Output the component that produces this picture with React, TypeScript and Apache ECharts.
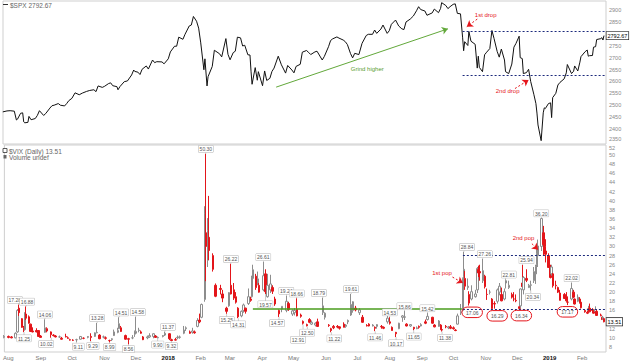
import React, { useEffect, useRef } from "react";
import * as echarts from "echarts";

const m = (ym: string, days: number[]) => days.map((d) => `${ym}-${String(d).padStart(2, "0")}`);

// sampled trading days
const dates: string[] = [
  ...m("2017-07", [28]),
  ...m("2017-08", [1, 4, 8, 10, 11, 14, 16, 17, 18, 21, 22, 24, 28, 30]),
  ...m("2017-09", [1, 5, 7, 11, 13, 15, 19, 21, 25, 27, 29]),
  ...m("2017-10", [2, 5, 9, 12, 16, 19, 23, 25, 27, 31]),
  ...m("2017-11", [2, 6, 8, 10, 14, 15, 17, 21, 24, 28, 30]),
  ...m("2017-12", [1, 4, 6, 8, 12, 14, 18, 20, 22, 27, 29]),
  ...m("2018-01", [2, 4, 8, 10, 12, 16, 18, 22, 24, 26, 29, 31]),
  ...m("2018-02", [2, 5, 6, 8, 9, 13, 15, 20, 22, 26, 28]),
  ...m("2018-03", [2, 5, 7, 9, 12, 14, 16, 19, 21, 22, 23, 26, 28, 29]),
  ...m("2018-04", [2, 4, 6, 9, 11, 13, 17, 20, 24, 26, 30]),
  ...m("2018-05", [2, 4, 8, 10, 14, 16, 18, 22, 24, 29, 31]),
  ...m("2018-06", [4, 6, 8, 12, 14, 18, 20, 22, 25, 27, 29]),
  ...m("2018-07", [3, 6, 10, 12, 16, 18, 20, 24, 26, 30]),
  ...m("2018-08", [1, 3, 7, 10, 13, 15, 17, 21, 24, 27, 29, 31]),
  ...m("2018-09", [4, 6, 11, 13, 17, 19, 20, 24, 26, 28]),
  ...m("2018-10", [1, 3, 5, 8, 10, 11, 12, 15, 16, 18, 22, 24, 25, 26, 29, 31]),
  ...m("2018-11", [2, 5, 7, 9, 12, 14, 16, 19, 20, 23, 26, 28, 30]),
  ...m("2018-12", [3, 4, 6, 7, 10, 12, 14, 17, 19, 20, 21, 24, 26, 27, 28, 31]),
  ...m("2019-01", [2, 3, 4, 7, 9, 11, 15, 17, 18, 22, 24, 25, 28, 30, 31]),
  ...m("2019-02", [4, 6, 7, 8, 11, 12, 14, 15, 19, 20, 21, 22]),
];

// $SPX close
const spx: number[] = [
  2472,
  2476, 2477, 2475, 2438, 2441, 2466, 2468, 2430, 2426, 2428, 2453, 2439, 2444, 2457,
  2477, 2457, 2465, 2488, 2498, 2500, 2507, 2500, 2497, 2507, 2519,
  2529, 2552, 2544, 2551, 2558, 2562, 2565, 2557, 2581, 2575,
  2579, 2591, 2594, 2582, 2578, 2565, 2579, 2599, 2602, 2627, 2648,
  2642, 2639, 2629, 2651, 2665, 2652, 2690, 2679, 2683, 2682, 2674,
  2695, 2724, 2748, 2748, 2786, 2777, 2798, 2833, 2837, 2873, 2853, 2824,
  2762, 2649, 2695, 2581, 2620, 2663, 2731, 2716, 2703, 2780, 2714,
  2691, 2721, 2727, 2786, 2783, 2749, 2752, 2712, 2711, 2643, 2588, 2658, 2605, 2641,
  2582, 2644, 2604, 2613, 2642, 2656, 2706, 2670, 2635, 2667, 2648,
  2636, 2663, 2672, 2723, 2730, 2722, 2713, 2724, 2727, 2690, 2705,
  2746, 2772, 2779, 2787, 2782, 2774, 2767, 2755, 2717, 2699, 2718,
  2713, 2760, 2793, 2798, 2798, 2816, 2802, 2820, 2837, 2802,
  2813, 2840, 2858, 2833, 2821, 2818, 2850, 2862, 2875, 2897, 2914, 2902,
  2896, 2878, 2888, 2904, 2889, 2907, 2931, 2919, 2906, 2914,
  2924, 2926, 2886, 2884, 2786, 2729, 2767, 2751, 2810, 2769, 2756, 2656, 2706, 2659, 2641, 2712,
  2723, 2738, 2814, 2781, 2726, 2702, 2736, 2690, 2641, 2633, 2673, 2744, 2760,
  2790, 2700, 2696, 2633, 2637, 2651, 2600, 2546, 2507, 2467, 2417, 2351, 2468, 2489, 2486, 2507,
  2510, 2448, 2532, 2550, 2585, 2596, 2611, 2636, 2671, 2633, 2643, 2665, 2644, 2681, 2704,
  2725, 2732, 2706, 2708, 2709, 2744, 2746, 2776, 2780, 2784, 2774, 2792.67,
];

// $VIX [open, high, low, close]
const vix: number[][] = [
  [10.1, 10.6, 9.9, 10.3],
  [10.3, 10.5, 9.9, 10.1], [10.2, 10.4, 9.9, 10.0], [10.0, 11.2, 9.9, 11.0], [11.3, 16.3, 11.1, 16.0], [16.5, 17.28, 14.8, 15.5], [14.2, 14.3, 12.2, 12.3], [12.3, 12.6, 11.25, 11.7], [11.8, 15.6, 11.6, 15.5], [15.2, 16.88, 13.9, 14.3], [14.6, 14.9, 13.1, 13.2], [13.0, 13.1, 11.3, 11.4], [11.5, 12.3, 11.2, 11.3], [11.6, 12.1, 11.2, 11.3], [11.6, 11.7, 10.3, 10.3],
  [10.4, 10.6, 10.1, 10.1], [11.2, 14.06, 11.1, 12.2], [12.0, 12.3, 11.2, 11.5], [11.3, 11.4, 10.02, 10.7], [10.6, 10.8, 10.3, 10.5], [10.4, 10.6, 10.1, 10.2], [10.2, 10.5, 10.0, 10.2], [9.9, 10.2, 9.6, 9.7], [10.3, 10.9, 10.1, 10.2], [10.0, 10.3, 9.8, 9.9], [9.6, 9.8, 9.4, 9.5],
  [9.5, 9.7, 9.3, 9.45], [9.6, 9.8, 9.11, 9.6], [9.7, 10.4, 9.6, 10.3], [9.9, 10.1, 9.7, 9.9], [10.1, 10.4, 9.9, 10.3], [10.3, 11.0, 9.29, 10.1], [10.3, 11.2, 10.2, 11.1], [11.1, 13.28, 11.0, 11.2], [10.6, 10.8, 9.7, 9.8], [10.2, 10.5, 9.9, 10.2],
  [10.0, 10.3, 9.6, 9.9], [9.4, 9.6, 8.99, 9.4], [9.6, 9.9, 9.3, 9.8], [10.5, 11.8, 10.4, 11.3], [11.2, 12.2, 11.0, 11.6], [12.0, 14.51, 11.9, 13.1], [12.2, 12.6, 11.3, 11.4], [10.5, 10.7, 9.6, 9.7], [9.8, 10.0, 8.56, 9.7], [10.0, 10.6, 9.7, 10.0], [10.8, 11.6, 10.2, 11.3],
  [11.0, 14.58, 10.9, 11.4], [11.6, 12.2, 11.2, 11.7], [11.3, 11.6, 10.9, 11.0], [10.2, 10.4, 9.5, 9.6], [10.0, 10.5, 9.7, 10.2], [10.2, 11.0, 10.0, 10.5], [10.3, 11.0, 9.9, 10.9], [10.4, 10.6, 10.0, 10.1], [10.0, 10.3, 9.9, 10.1], [10.3, 10.6, 10.1, 10.5], [10.6, 11.37, 10.4, 11.0],
  [10.9, 11.0, 9.5, 9.8], [9.6, 9.8, 9.32, 9.4], [9.6, 10.0, 9.4, 9.5], [10.0, 10.5, 9.7, 10.1], [10.1, 10.5, 9.8, 10.2], [11.0, 12.6, 10.8, 11.7], [12.0, 12.5, 11.5, 12.2], [11.3, 11.6, 10.9, 11.0], [11.2, 12.2, 10.9, 11.5], [11.3, 11.6, 10.9, 11.1], [12.5, 14.3, 12.3, 13.8], [13.9, 15.3, 13.2, 13.5],
  [14.5, 17.5, 14.3, 17.3], [18.4, 38.8, 17.9, 37.3], [33.0, 50.3, 22.4, 30.0], [27.0, 36.2, 25.5, 33.5], [32.0, 41.06, 27.0, 29.1], [28.0, 28.5, 24.5, 25.0], [21.5, 21.9, 18.9, 19.1], [20.8, 21.6, 19.5, 20.6], [19.6, 20.5, 17.8, 18.7], [16.5, 16.8, 15.25, 15.8], [17.0, 20.0, 16.8, 19.9],
  [21.5, 26.22, 19.5, 19.6], [20.5, 22.0, 18.3, 18.7], [19.0, 20.0, 17.5, 17.8], [16.5, 16.7, 14.31, 14.6], [14.8, 16.0, 14.5, 15.8], [16.0, 17.5, 15.5, 17.2], [16.5, 16.6, 15.3, 15.8], [17.5, 20.8, 17.2, 19.0], [18.5, 19.0, 17.9, 18.2], [19.0, 23.6, 18.8, 23.3], [23.0, 26.0, 20.5, 24.9], [23.5, 24.0, 20.5, 21.0], [22.0, 24.5, 21.5, 22.9], [21.5, 22.0, 19.9, 20.0],
  [20.5, 26.61, 20.2, 23.6], [24.0, 25.0, 19.57, 20.1], [19.0, 24.0, 18.8, 21.5], [20.5, 23.8, 19.8, 21.8], [21.0, 21.5, 19.6, 20.2], [18.5, 19.0, 17.0, 17.4], [16.0, 16.2, 14.57, 15.25], [16.3, 16.9, 15.6, 16.9], [16.0, 19.24, 15.6, 18.0], [17.5, 17.9, 15.9, 16.2], [15.2, 16.2, 14.8, 15.9],
  [15.5, 16.5, 14.9, 16.0], [16.2, 18.66, 14.7, 14.8], [15.0, 15.3, 14.4, 14.7], [13.6, 13.8, 12.91, 13.2], [12.9, 13.1, 12.5, 12.65], [14.0, 14.3, 13.2, 13.4], [13.0, 13.8, 12.8, 13.4], [12.8, 13.4, 12.5, 13.2], [13.5, 14.2, 12.4, 12.5], [15.5, 18.79, 15.0, 17.0], [14.5, 15.6, 14.0, 15.4],
  [12.8, 13.0, 12.4, 12.7], [12.0, 12.2, 11.22, 11.6], [12.5, 12.8, 11.9, 12.2], [12.5, 12.8, 12.1, 12.35], [12.4, 12.5, 11.8, 12.1], [13.0, 13.4, 12.3, 12.3], [12.5, 13.0, 12.2, 12.8], [13.5, 14.0, 13.0, 13.8], [15.0, 19.61, 14.8, 17.3], [16.0, 18.0, 15.5, 17.9], [16.5, 17.0, 15.8, 16.1],
  [15.5, 16.5, 15.0, 16.1], [14.5, 15.0, 13.3, 13.4], [12.7, 13.0, 12.5, 12.6], [13.0, 13.2, 12.5, 12.6], [12.6, 13.0, 12.5, 12.8], [12.3, 12.5, 11.46, 12.1], [12.5, 13.0, 12.0, 12.9], [12.5, 12.8, 12.0, 12.4], [12.3, 12.5, 11.9, 12.1], [13.5, 14.9, 13.1, 14.3],
  [13.5, 14.53, 12.9, 13.2], [12.3, 12.5, 11.6, 11.6], [11.2, 11.3, 10.17, 10.9], [12.0, 13.3, 11.9, 13.2], [14.5, 15.0, 13.5, 14.8], [14.5, 15.86, 13.9, 14.6], [13.0, 13.2, 12.5, 12.6], [12.6, 13.0, 12.4, 12.9], [12.3, 12.4, 11.65, 12.0], [12.0, 12.5, 11.9, 12.2], [12.5, 12.7, 12.0, 12.3], [12.6, 13.2, 12.5, 12.9],
  [13.5, 14.0, 13.0, 13.2], [14.0, 15.42, 13.8, 14.7], [14.5, 14.6, 13.1, 13.2], [12.8, 13.0, 12.3, 12.4], [12.5, 13.9, 12.4, 13.7], [12.8, 13.0, 11.7, 11.8], [11.8, 12.0, 11.38, 11.7], [12.5, 12.8, 12.1, 12.4], [12.2, 12.6, 11.9, 12.4], [12.4, 12.8, 11.9, 12.1],
  [12.2, 12.5, 11.8, 12.0], [11.7, 11.9, 11.45, 11.6], [13.0, 15.3, 12.9, 14.8], [15.5, 17.4, 15.0, 15.7], [16.0, 23.2, 15.8, 23.0], [23.5, 28.84, 22.5, 25.0], [23.0, 24.6, 20.5, 21.3], [21.0, 23.0, 20.5, 21.3], [19.5, 20.2, 17.06, 17.6], [18.5, 21.5, 18.2, 20.1], [19.0, 20.5, 18.8, 19.6], [20.5, 25.5, 19.8, 25.2], [25.0, 25.8, 23.3, 24.2], [24.5, 26.0, 22.5, 24.2], [22.5, 27.26, 22.0, 24.7], [23.5, 23.8, 20.8, 21.2],
  [19.5, 20.8, 18.3, 19.5], [20.0, 20.5, 19.5, 20.0], [18.5, 18.7, 16.29, 16.4], [17.5, 18.0, 16.4, 17.4], [18.0, 20.8, 17.5, 20.5], [20.0, 22.0, 19.3, 21.3], [19.5, 21.0, 18.0, 18.1], [18.5, 20.8, 18.2, 20.1], [22.0, 22.81, 20.8, 22.5], [21.0, 22.5, 20.7, 21.5], [19.5, 19.9, 18.6, 18.9], [18.5, 20.0, 18.0, 18.5], [18.2, 19.5, 17.8, 18.1],
  [16.8, 17.2, 16.34, 16.44], [17.0, 20.8, 16.5, 20.7], [22.0, 25.94, 21.0, 21.2], [20.5, 23.5, 19.5, 23.2], [23.0, 25.0, 22.2, 22.6], [21.0, 21.8, 20.9, 21.5], [21.5, 22.5, 20.34, 21.6], [22.5, 25.5, 22.0, 24.5], [24.0, 26.0, 21.8, 25.6], [26.0, 30.3, 24.0, 28.4], [28.0, 31.5, 25.5, 30.1], [30.0, 36.2, 29.0, 36.1], [33.0, 34.5, 28.0, 30.4], [31.5, 32.0, 28.5, 30.0], [29.0, 30.0, 26.5, 28.3], [28.0, 28.5, 25.4, 25.4],
  [25.5, 26.0, 23.0, 23.2], [24.0, 26.0, 23.6, 25.5], [24.0, 24.2, 21.0, 21.4], [21.5, 22.5, 20.6, 21.4], [21.0, 21.2, 19.8, 20.0], [19.8, 20.5, 18.2, 18.2], [19.5, 19.8, 18.5, 18.6], [19.0, 20.0, 17.9, 18.1], [17.8, 18.3, 17.17, 17.8], [18.5, 22.02, 18.2, 20.8], [20.0, 20.5, 18.7, 18.9], [18.5, 18.6, 17.3, 17.4], [18.0, 19.5, 17.8, 18.9], [18.5, 18.9, 17.5, 17.7], [17.8, 18.1, 16.4, 16.6],
  [16.0, 16.3, 15.5, 15.7], [15.6, 16.0, 15.2, 15.4], [16.0, 17.0, 15.8, 16.4], [16.5, 17.5, 15.6, 15.7], [16.2, 16.5, 15.6, 16.0], [15.8, 16.0, 15.3, 15.4], [15.8, 16.9, 15.6, 16.2], [15.8, 16.3, 14.8, 14.9], [15.0, 15.3, 14.7, 14.9], [14.5, 14.6, 13.9, 14.0], [14.2, 14.8, 13.9, 14.5], [14.2, 14.3, 13.4, 13.51],
];

// annotated VIX highs / lows (dates of candles)
const vixHighLabels = ["2017-08-11", "2017-08-18", "2017-09-05", "2017-10-25", "2017-11-15", "2017-12-01", "2017-12-29", "2018-02-06", "2018-03-02", "2018-04-02", "2018-04-24", "2018-05-04", "2018-05-29", "2018-06-25", "2018-08-01", "2018-08-15", "2018-09-06", "2018-10-11", "2018-10-29", "2018-11-20", "2018-12-06", "2018-12-24", "2019-01-22"];
const vixLowLabels = ["2017-08-16", "2017-09-11", "2017-10-05", "2017-10-19", "2017-11-06", "2017-11-24", "2017-12-22", "2018-01-04", "2018-02-26", "2018-03-09", "2018-04-04", "2018-04-17", "2018-05-10", "2018-05-14", "2018-06-06", "2018-07-18", "2018-08-07", "2018-08-24", "2018-09-20", "2018-12-14"];
const vixCircledLows = ["2018-10-16", "2018-11-07", "2018-12-03", "2019-01-18"];

const monthTicks = ["2017-08", "2017-09", "2017-10", "2017-11", "2017-12", "2018-01", "2018-02", "2018-03", "2018-04", "2018-05", "2018-06", "2018-07", "2018-08", "2018-09", "2018-10", "2018-11", "2018-12", "2019-01", "2019-02"];
// tick labels visible on the right axes (2800 and 14 sit under the last-value tags)
const spxTicks = [2350, 2400, 2450, 2500, 2550, 2600, 2650, 2700, 2750, 2850, 2900];
const vixTicks = [8, 10, 12, 16, 18, 20, 22, 24, 26, 28, 30, 32, 34, 36, 38, 40, 42, 44, 46, 48, 50, 52];
const MONTHS = ["Jan", "Feb", "Mar", "Apr", "May", "Jun", "Jul", "Aug", "Sep", "Oct", "Nov", "Dec"];

// support / resistance levels
const spxLevels = [2812, 2628];
const vixLevels = [28, 16.3];

const ts = (s: string) => {
  const [y, mo, d] = s.split("-").map(Number);
  return Date.UTC(y, mo - 1, d || 1);
};

const FONT = "Liberation Sans, Arial, sans-serif";
const RED = "#e5161c";
const NAVY = "#1c2a7c";

export default function App() {
  const ref = useRef<HTMLDivElement>(null);
  useEffect(() => {
    const chart = echarts.init(ref.current!, null, { renderer: "svg" });
    const X_MIN = Date.UTC(2017, 6, 28, 5);
    const X_MAX = Date.UTC(2019, 1, 23, 22);
    const idx = (d: string) => dates.indexOf(d);
    const spxData = dates.map((d, i) => [ts(d), spx[i]]);
    const vixData = dates.map((d, i) => [ts(d), vix[i][0], vix[i][3], vix[i][2], vix[i][1]]);
    const lastT = ts(dates[dates.length - 1]);
    const lastSpx = spx[spx.length - 1];
    const lastVix = vix[vix.length - 1][3];

    // label placement tweaks (pixels)
    const shiftX: Record<string, number> = {
      "2017-08-11": -4, "2017-08-18": 1, "2017-09-11": -5, "2017-10-05": 2, "2017-10-19": 2,
      "2017-11-15": 2, "2017-12-01": 2, "2017-12-29": 3, "2018-04-17": -2, "2018-05-10": -5,
      "2018-05-29": -4, "2018-06-06": 3, "2018-09-20": 3, "2018-10-11": 3, "2018-10-29": 2,
      "2018-11-20": 3, "2018-12-06": 4, "2018-12-14": 2,
      "2018-10-16": 3, "2018-11-07": 5, "2018-12-03": 2,
    };
    const stem: Record<string, number> = {
      "2017-10-05": 1.5, "2017-10-19": 1.5, "2017-11-06": 1.5, "2017-11-24": 1.5, "2018-01-04": 2,
      "2018-05-10": 12, "2018-04-04": 7,
    };

    const boxLabel = {
      show: true,
      fontSize: 5,
      fontFamily: FONT,
      color: "#555",
      backgroundColor: "#fff",
      borderColor: "#b5b5b5",
      borderWidth: 0.5,
      padding: [1, 1, 0.5, 1],
    };

    const highPts = vixHighLabels.map((d) => {
      const v = vix[idx(d)][1];
      const s = stem[d] || 1.5;
      return {
        coord: [ts(d), v],
        symbol: "rect",
        symbolSize: [0.6, s],
        symbolOffset: [0, -s / 2],
        itemStyle: { color: "#aaa" },
        label: { ...boxLabel, position: "top", distance: 0, offset: [shiftX[d] || 0, 0], formatter: v.toFixed(2) },
      };
    });
    const lowPts = vixLowLabels.map((d) => {
      const v = vix[idx(d)][2];
      const s = stem[d] || 3;
      return {
        coord: [ts(d), v],
        symbol: "rect",
        symbolSize: [0.6, s],
        symbolOffset: [0, s / 2],
        itemStyle: { color: "#aaa" },
        label: { ...boxLabel, position: "bottom", distance: 0, offset: [shiftX[d] || 0, 0], formatter: v.toFixed(2) },
      };
    });
    const circlePts = vixCircledLows.map((d) => {
      const v = vix[idx(d)][2];
      return {
        coord: [ts(d), v],
        symbol: "circle",
        symbolSize: 0,
        label: {
          show: true,
          position: "bottom",
          distance: 1.5,
          offset: [shiftX[d] || 0, 0],
          formatter: v.toFixed(2),
          fontSize: 5,
          fontFamily: FONT,
          color: "#555",
          borderColor: RED,
          borderWidth: 1,
          borderRadius: 7,
          padding: [3, 4, 2.5, 4],
        },
      };
    });
    const textPt = (d: string, v: number, text: string, color: string) => ({
      coord: [ts(d), v],
      symbol: "circle",
      symbolSize: 0,
      label: { show: true, position: "inside", formatter: text, color, fontSize: 6, fontFamily: FONT },
    });
    const tagPt = (v: number) => ({
      coord: [lastT, v],
      symbol: "circle",
      symbolSize: 0,
      label: {
        show: true,
        position: "right",
        distance: 2.5,
        formatter: v.toFixed(2),
        fontSize: 5.5,
        fontFamily: FONT,
        color: "#000",
        backgroundColor: "#fff",
        borderColor: "#222",
        borderWidth: 0.7,
        padding: [1, 1, 0.5, 1],
      },
    });
    const hLine = (from: string, v: number, color: string, type: any, width: number) => [
      { coord: [ts(from), v], symbol: "none", lineStyle: { color, type, width } },
      { coord: [X_MAX, v], symbol: "none" },
    ];
    const seg = (a: [string, number], b: [string, number], color: string, type: any, width: number) => [
      { coord: [ts(a[0]), a[1]], symbol: "none", lineStyle: { color, type, width } },
      { coord: [ts(b[0]), b[1]], symbol: "arrow", symbolSize: 6 },
    ];

    const xBase = {
      type: "value",
      min: X_MIN,
      max: X_MAX,
      axisLine: { show: false },
      axisTick: { show: false },
      splitLine: { show: false },
    };
    const yLabel = { fontSize: 5.5, color: "#888", margin: 3, fontFamily: FONT };

    const option: any = {
      animation: false,
      backgroundColor: "#fff",
      textStyle: { fontFamily: FONT },
      grid: [
        { left: 3, right: 34, top: 1, height: 143, show: true, borderColor: "#cfcfcf", borderWidth: 1 },
        { left: 3, right: 34, top: 145, height: 207, show: true, borderColor: "#cfcfcf", borderWidth: 1 },
      ],
      xAxis: [
        { ...xBase, gridIndex: 0, axisLabel: { show: false } },
        {
          ...xBase,
          gridIndex: 1,
          axisLabel: {
            show: true,
            customValues: monthTicks.map((s) => ts(s)),
            hideOverlap: false,
            fontSize: 6,
            color: "#777",
            margin: 2.5,
            fontFamily: FONT,
            formatter: (val: number) => {
              const d = new Date(val);
              const mo = d.getUTCMonth();
              return mo === 0 ? `{y|${d.getUTCFullYear()}}` : MONTHS[mo];
            },
            rich: { y: { fontWeight: "bold", color: "#111", fontSize: 6, fontFamily: FONT } },
          },
        },
      ],
      yAxis: [
        {
          type: "value", gridIndex: 0, position: "right", min: 2337, max: 2938,
          axisLine: { show: false }, axisTick: { show: false }, splitLine: { show: false },
          axisLabel: {
            ...yLabel,
            customValues: spxTicks,
            formatter: (v: number) => (v === spxTicks[0] ? `{b|${v}}` : `${v}`),
            rich: { b: { ...yLabel, padding: [0, 0, 4, 0] } },
          },
        },
        {
          type: "value", gridIndex: 1, position: "right", min: 6.9, max: 52.2,
          axisLine: { show: false }, axisTick: { show: false }, splitLine: { show: false },
          axisLabel: {
            ...yLabel,
            customValues: vixTicks,
            formatter: (v: number) => (v === vixTicks[vixTicks.length - 1] ? `{t|${v}}` : `${v}`),
            rich: { t: { ...yLabel, padding: [4, 0, 0, 0] } },
          },
        },
      ],
      series: [
        {
          type: "line",
          name: "$SPX",
          xAxisIndex: 0,
          yAxisIndex: 0,
          data: spxData,
          symbol: "none",
          lineStyle: { color: "#111", width: 1 },
          silent: true,
          markLine: {
            silent: true,
            symbol: ["none", "none"],
            label: { show: false },
            data: [
              hLine("2018-10-10", spxLevels[0], NAVY, [2, 2], 1),
              hLine("2018-10-10", spxLevels[1], NAVY, [2, 2], 1.2),
              seg(["2018-10-24", 2862], ["2018-10-14", 2830], RED, [2, 2], 1),
              seg(["2018-11-29", 2570], ["2018-12-12", 2606], RED, [2, 2], 1),
              seg(["2018-04-15", 2576], ["2018-09-26", 2821], "#62a83a", "solid", 1),
            ],
          },
          markPoint: {
            silent: true,
            data: [
              tagPt(lastSpx),
              textPt("2018-11-01", 2879, "1st drop", RED),
              textPt("2018-11-22", 2558, "2nd drop", RED),
              textPt("2018-07-11", 2652, "Grind higher", "#5a9e30"),
            ],
          },
        },
        {
          type: "candlestick",
          name: "$VIX",
          xAxisIndex: 1,
          yAxisIndex: 1,
          data: vixData,
          encode: { x: 0, y: [1, 2, 3, 4] },
          barWidth: 2,
          silent: true,
          itemStyle: { color: "#ffffff", color0: "#e3151a", borderColor: "#8d8d8d", borderColor0: "#e3151a", borderWidth: 1 },
          markLine: {
            silent: true,
            symbol: ["none", "none"],
            label: { show: false },
            data: [
              [
                { coord: [ts("2018-03-23"), vixLevels[1]], symbol: "none", lineStyle: { color: "#4a9c1e", type: "solid", width: 1.5 } },
                { coord: [ts("2018-10-09"), vixLevels[1]], symbol: "none" },
              ],
              hLine("2018-10-10", vixLevels[1], NAVY, [2, 2], 1.2),
              hLine("2018-10-10", vixLevels[0], NAVY, [2, 2], 1.2),
              seg(["2018-09-30", 23.3], ["2018-10-10", 22.0], RED, [2, 2], 1),
              seg(["2018-12-15", 30.6], ["2018-12-21", 29.3], RED, [2, 2], 1),
            ],
          },
          markPoint: {
            silent: true,
            data: [
              ...highPts,
              ...lowPts,
              ...circlePts,
              tagPt(lastVix),
              textPt("2018-09-20", 24.2, "1st pop", RED),
              textPt("2018-12-07", 31.9, "2nd pop", RED),
            ],
          },
        },
      ],
      graphic: [
        { type: "line", shape: { x1: 3, y1: 4.5, x2: 8, y2: 4.5 }, style: { stroke: "#333", lineWidth: 1 } },
        { type: "text", x: 10, y: 1.5, style: { text: `$SPX ${lastSpx.toFixed(2)}`, fontSize: 6.5, fill: "#666", fontFamily: FONT } },
        { type: "rect", shape: { x: 3, y: 148.5, width: 4, height: 4 }, style: { fill: "#fff", stroke: "#333", lineWidth: 0.8 } },
        { type: "text", x: 9, y: 147.5, style: { text: `$VIX (Daily) ${lastVix.toFixed(2)}`, fontSize: 6.5, fill: "#666", fontFamily: FONT } },
        { type: "rect", shape: { x: 3.5, y: 155, width: 3, height: 3.5 }, style: { fill: "#666" } },
        { type: "text", x: 9, y: 153.5, style: { text: "Volume undef", fontSize: 6.5, fill: "#666", fontFamily: FONT } },
      ],
    };
    chart.setOption(option);
    return () => chart.dispose();
  }, []);
  return <div ref={ref} style={{ position: "absolute", left: 0, top: 0, width: 640, height: 363 }} />;
}
